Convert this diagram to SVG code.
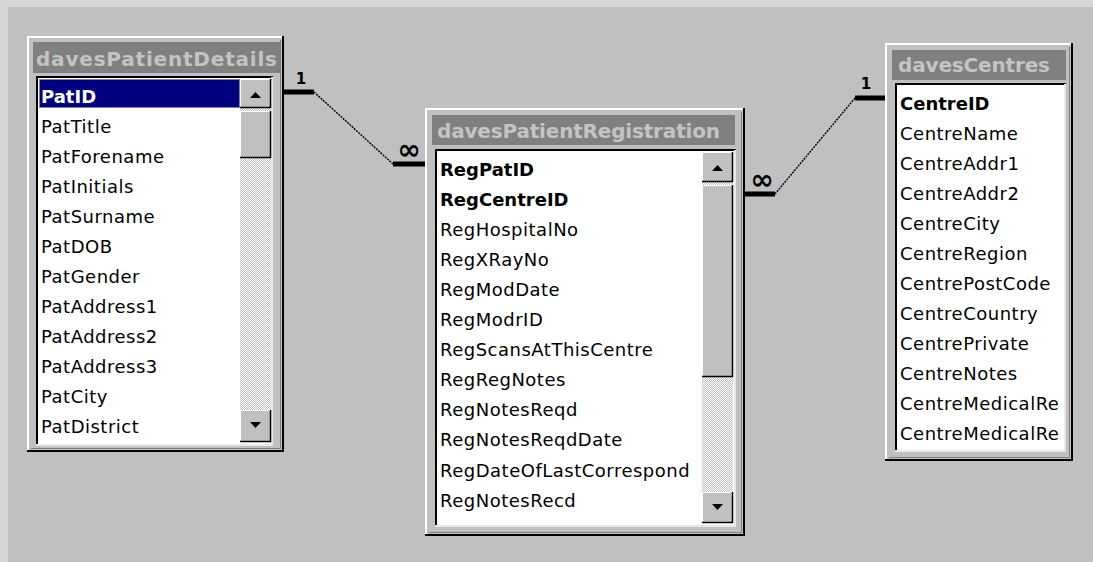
<svg xmlns="http://www.w3.org/2000/svg" width="1093" height="562" viewBox="0 0 1093 562">
<style>
.frame{fill:#c0c0c0}
.hl{fill:none;stroke:#ffffff;stroke-width:2}
.sh{fill:none;stroke:#000000;stroke-width:2}
.sh2{fill:none;stroke:#808080;stroke-width:1}
.title{fill:#808080}
.ttext{font-family:"DejaVu Sans",sans-serif;font-weight:bold;font-size:20px;fill:#c4c4c4}
.list{fill:#ffffff}
.ldark{fill:none;stroke:#000000;stroke-width:2}
.llight{fill:none;stroke:#e8e8e8;stroke-width:2}
.f{font-family:"DejaVu Sans",sans-serif;font-size:18px;letter-spacing:0.5px;fill:#000}
.fb{font-family:"DejaVu Sans",sans-serif;font-size:18px;font-weight:bold;fill:#000}
.btn{fill:#c0c0c0}
.arrow{fill:#000}
.track{fill:url(#dither)}
.bar{stroke:#000;stroke-width:5;fill:none}
.rel{stroke:#000;stroke-width:1.4;stroke-dasharray:2 1;fill:none}
.lbl{font-family:"DejaVu Sans",sans-serif;font-weight:bold;font-size:15px;fill:#000;text-anchor:middle}
.inf{font-family:"DejaVu Sans",sans-serif;font-weight:bold;font-size:28px;fill:#000;text-anchor:middle}
</style>
<defs>
<pattern id="dither" width="2" height="2" patternUnits="userSpaceOnUse">
<rect width="2" height="2" fill="#c0c0c0"/>
<rect width="1" height="1" fill="#ffffff"/>
<rect x="1" y="1" width="1" height="1" fill="#ffffff"/>
</pattern>
</defs>
<rect width="1093" height="562" fill="#d6d6d6"/>
<rect x="8" y="7" width="1085" height="555" fill="#c0c0c0"/>

<g id="connectors">
<line class="bar" x1="284" y1="92" x2="314" y2="92"/>
<line class="rel" x1="314" y1="92" x2="393" y2="164"/>
<line class="bar" x1="393" y1="164" x2="425" y2="164"/>
<text class="lbl" x="301" y="84">1</text>
<text class="inf" x="409" y="159">∞</text>
<line class="bar" x1="745" y1="194" x2="775" y2="194"/>
<line class="rel" x1="775" y1="194" x2="855" y2="98"/>
<line class="bar" x1="855" y1="98" x2="885" y2="98"/>
<text class="inf" x="762" y="189">∞</text>
<text class="lbl" x="866" y="89">1</text>
</g>

<g id="davesPatientDetails">
<rect class="frame" x="27" y="36" width="257" height="416"/>
<path class="hl" d="M28,452 V37 H284"/>
<path class="sh" d="M283,36 V451 H27"/>
<path class="sh2" d="M280.5,40 V448.5 H31"/>
<rect class="title" x="33" y="42" width="248" height="31"/>
<text class="ttext" x="36" y="66" textLength="241" lengthAdjust="spacing">davesPatientDetails</text>
<rect class="list" x="36" y="76" width="237" height="370"/>
<path class="ldark" d="M37,446 V77 H273"/>
<path class="llight" d="M272,77 V445 H36"/>
<rect x="39" y="79" width="201" height="29" fill="#000080"/>
<rect x="39.5" y="79.5" width="200" height="28" fill="none" stroke="#ffffcc" stroke-width="1" stroke-dasharray="1 1"/>
<text class="fb" x="41" y="103" style="fill:#ffffff">PatID</text>
<text class="f" x="41" y="133">PatTitle</text>
<text class="f" x="41" y="163">PatForename</text>
<text class="f" x="41" y="193">PatInitials</text>
<text class="f" x="41" y="223">PatSurname</text>
<text class="f" x="41" y="253">PatDOB</text>
<text class="f" x="41" y="283">PatGender</text>
<text class="f" x="41" y="313">PatAddress1</text>
<text class="f" x="41" y="343">PatAddress2</text>
<text class="f" x="41" y="373">PatAddress3</text>
<text class="f" x="41" y="403">PatCity</text>
<text class="f" x="41" y="433">PatDistrict</text>
<rect class="track" x="240" y="108" width="31" height="302"/>
<rect class="btn" x="240" y="79" width="31" height="29"/>
<path class="hl" style="stroke-width:1" d="M240.5,107 V79.5 H270"/>
<path class="sh" style="stroke-width:1.5" d="M270.5,79 V107.5 H240"/>
<polygon class="arrow" points="250,98 261,98 255.5,92"/>
<rect class="btn" x="240" y="111" width="31" height="47"/>
<path class="hl" style="stroke-width:1" d="M240.5,157 V111.5 H270"/>
<path class="sh" style="stroke-width:1.5" d="M270.5,111 V157.5 H240"/>
<rect class="btn" x="240" y="410" width="31" height="32"/>
<path class="hl" style="stroke-width:1" d="M240.5,441 V410.5 H270"/>
<path class="sh" style="stroke-width:1.5" d="M270.5,410 V441.5 H240"/>
<polygon class="arrow" points="250,422 261,422 255.5,428"/>
</g>

<g id="davesPatientRegistration">
<rect class="frame" x="425" y="108" width="320" height="428"/>
<path class="hl" d="M426,536 V109 H745"/>
<path class="sh" d="M744,108 V535 H425"/>
<path class="sh2" d="M741.5,112 V532.5 H429"/>
<rect class="title" x="432" y="115" width="303" height="30"/>
<text class="ttext" x="437" y="138" textLength="283" lengthAdjust="spacing">davesPatientRegistration</text>
<rect class="list" x="435" y="149" width="301" height="378"/>
<path class="ldark" d="M436,527 V150 H736"/>
<path class="llight" d="M735,150 V526 H435"/>
<text class="fb" x="440" y="176">RegPatID</text>
<text class="fb" x="440" y="206">RegCentreID</text>
<text class="f" x="440" y="236">RegHospitalNo</text>
<text class="f" x="440" y="266">RegXRayNo</text>
<text class="f" x="440" y="296">RegModDate</text>
<text class="f" x="440" y="326">RegModrID</text>
<text class="f" x="440" y="356">RegScansAtThisCentre</text>
<text class="f" x="440" y="386">RegRegNotes</text>
<text class="f" x="440" y="416">RegNotesReqd</text>
<text class="f" x="440" y="446">RegNotesReqdDate</text>
<text class="f" x="440" y="477">RegDateOfLastCorrespond</text>
<text class="f" x="440" y="507">RegNotesRecd</text>
<rect class="track" x="702" y="182" width="31" height="310"/>
<rect class="btn" x="702" y="152" width="31" height="30"/>
<path class="hl" style="stroke-width:1" d="M702.5,181 V152.5 H732"/>
<path class="sh" style="stroke-width:1.5" d="M732.5,152 V181.5 H702"/>
<polygon class="arrow" points="712,171 723,171 717.5,165"/>
<rect class="btn" x="702" y="185" width="31" height="192"/>
<path class="hl" style="stroke-width:1" d="M702.5,376 V185.5 H732"/>
<path class="sh" style="stroke-width:1.5" d="M732.5,185 V376.5 H702"/>
<rect class="btn" x="702" y="492" width="31" height="31"/>
<path class="hl" style="stroke-width:1" d="M702.5,522 V492.5 H732"/>
<path class="sh" style="stroke-width:1.5" d="M732.5,492 V522.5 H702"/>
<polygon class="arrow" points="712,504 723,504 717.5,510"/>
</g>

<g id="davesCentres">
<rect class="frame" x="885" y="43" width="188" height="418"/>
<path class="hl" d="M886,461 V44 H1073"/>
<path class="sh" d="M1072,43 V460 H885"/>
<path class="sh2" d="M1069.5,47 V457.5 H889"/>
<rect class="title" x="892" y="50" width="174" height="30"/>
<text class="ttext" x="898" y="72" textLength="152" lengthAdjust="spacing">davesCentres</text>
<rect class="list" x="895" y="83" width="171" height="369"/>
<path class="ldark" d="M896,452 V84 H1066"/>
<path class="llight" d="M1065,84 V451 H895"/>
<text class="fb" x="900" y="110">CentreID</text>
<text class="f" x="900" y="140">CentreName</text>
<text class="f" x="900" y="170">CentreAddr1</text>
<text class="f" x="900" y="200">CentreAddr2</text>
<text class="f" x="900" y="230">CentreCity</text>
<text class="f" x="900" y="260">CentreRegion</text>
<text class="f" x="900" y="290">CentrePostCode</text>
<text class="f" x="900" y="320">CentreCountry</text>
<text class="f" x="900" y="350">CentrePrivate</text>
<text class="f" x="900" y="380">CentreNotes</text>
<text class="f" x="900" y="410">CentreMedicalRe</text>
<text class="f" x="900" y="440">CentreMedicalRe</text>
</g>
</svg>
